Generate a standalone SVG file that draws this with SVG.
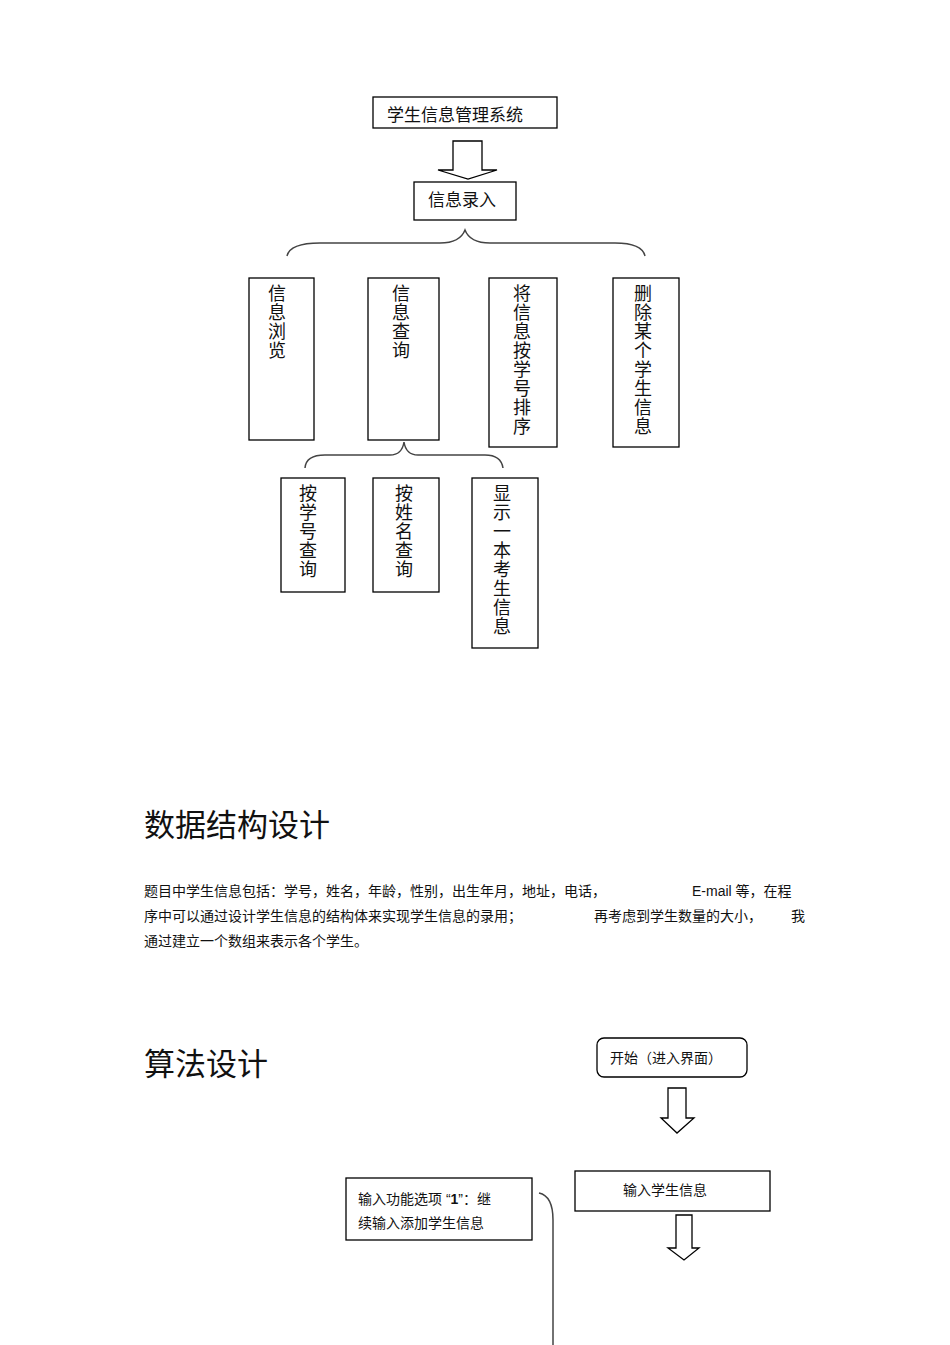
<svg xmlns="http://www.w3.org/2000/svg" width="950" height="1345" viewBox="0 0 950 1345">
<style>
.b{fill:#fff;stroke:#000;stroke-width:1.3}
.c{fill:none;stroke:#444;stroke-width:1.5}
.t{font-family:"Liberation Sans","Noto Sans CJK SC",sans-serif;font-size:17px;fill:#111}
.v{font-family:"Liberation Sans","Noto Sans CJK SC",sans-serif;font-size:18px;fill:#111;text-anchor:middle}
.s{font-family:"Liberation Sans","Noto Sans CJK SC",sans-serif;font-size:14px;fill:#111}
.h{font-family:"Liberation Sans","Noto Sans CJK SC",sans-serif;font-size:31px;fill:#111}
</style>
<rect width="950" height="1345" fill="#fff"/>
<g id="connectors">
<path class="b" d="M453,141H482V170H497L468,179L438,170H453Z"/>
<path class="c" d="M287,256Q290,243 320,243H440Q460,243 465,230Q470,243 490,243H615Q642,243 645,256"/>
<path class="c" d="M305,468Q306,455 325,455H390Q402,455 404,442Q406,455 418,455H485Q501,455 503,468"/>
<path class="b" d="M668,1088H686V1118H694L677,1133L661,1118H668Z"/>
<path class="b" d="M676,1215H692V1248H699L684,1260L668,1248H676Z"/>
<path class="c" d="M539,1193Q553,1196 553,1220V1345"/>
</g>
<g id="n-title"><rect class="b" x="373" y="97" width="184" height="31"/><text class="t" x="387" y="121">学生信息管理系统</text></g>
<g id="n-input"><rect class="b" x="414" y="182" width="102" height="38"/><text class="t" x="428" y="206">信息录入</text></g>
<g id="n-browse"><rect class="b" x="249" y="278" width="65" height="162"/><text class="v" x="277" y="300">信<tspan x="277" dy="19">息</tspan><tspan x="277" dy="19">浏</tspan><tspan x="277" dy="19">览</tspan></text></g>
<g id="n-query"><rect class="b" x="368" y="278" width="71" height="162"/><text class="v" x="401" y="300">信<tspan x="401" dy="19">息</tspan><tspan x="401" dy="19">查</tspan><tspan x="401" dy="19">询</tspan></text></g>
<g id="n-sort"><rect class="b" x="489" y="278" width="68" height="169"/><text class="v" x="522" y="300">将<tspan x="522" dy="19">信</tspan><tspan x="522" dy="19">息</tspan><tspan x="522" dy="19">按</tspan><tspan x="522" dy="19">学</tspan><tspan x="522" dy="19">号</tspan><tspan x="522" dy="19">排</tspan><tspan x="522" dy="19">序</tspan></text></g>
<g id="n-delete"><rect class="b" x="613" y="278" width="66" height="169"/><text class="v" x="643" y="300">删<tspan x="643" dy="19">除</tspan><tspan x="643" dy="19">某</tspan><tspan x="643" dy="19">个</tspan><tspan x="643" dy="19">学</tspan><tspan x="643" dy="19">生</tspan><tspan x="643" dy="19">信</tspan><tspan x="643" dy="19">息</tspan></text></g>
<g id="n-byid"><rect class="b" x="281" y="478" width="64" height="114"/><text class="v" x="308" y="500">按<tspan x="308" dy="19">学</tspan><tspan x="308" dy="19">号</tspan><tspan x="308" dy="19">查</tspan><tspan x="308" dy="19">询</tspan></text></g>
<g id="n-byname"><rect class="b" x="373" y="478" width="66" height="114"/><text class="v" x="404" y="500">按<tspan x="404" dy="19">姓</tspan><tspan x="404" dy="19">名</tspan><tspan x="404" dy="19">查</tspan><tspan x="404" dy="19">询</tspan></text></g>
<g id="n-show"><rect class="b" x="472" y="478" width="66" height="170"/><text class="v" x="502" y="500">显<tspan x="502" dy="19">示</tspan><tspan x="502" dy="19">一</tspan><tspan x="502" dy="19">本</tspan><tspan x="502" dy="19">考</tspan><tspan x="502" dy="19">生</tspan><tspan x="502" dy="19">信</tspan><tspan x="502" dy="19">息</tspan></text></g>
<text class="h" x="144" y="836">数据结构设计</text>
<text class="s" x="144" y="896">题目中学生信息包括：学号，姓名，年龄，性别，出生年月，地址，电话，</text>
<text class="s" x="692" y="896">E-mail 等，在程</text>
<text class="s" x="144" y="921">序中可以通过设计学生信息的结构体来实现学生信息的录用；</text>
<text class="s" x="594" y="921">再考虑到学生数量的大小，</text>
<text class="s" x="791" y="921">我</text>
<text class="s" x="144" y="946">通过建立一个数组来表示各个学生。</text>
<text class="h" x="144" y="1075">算法设计</text>
<g id="n-start"><rect class="b" x="597" y="1038" width="150" height="39" rx="7"/><text class="s" x="610" y="1063">开始（进入界面）</text></g>
<g id="n-enter"><rect class="b" x="575" y="1171" width="195" height="40"/><text class="s" x="623" y="1195">输入学生信息</text></g>
<g id="n-opt"><rect class="b" x="346" y="1178" width="186" height="62"/><text class="s" x="358" y="1204">输入功能选项   “<tspan font-weight="bold">1</tspan>”：继</text><text class="s" x="358" y="1228">续输入添加学生信息</text></g>
</svg>
